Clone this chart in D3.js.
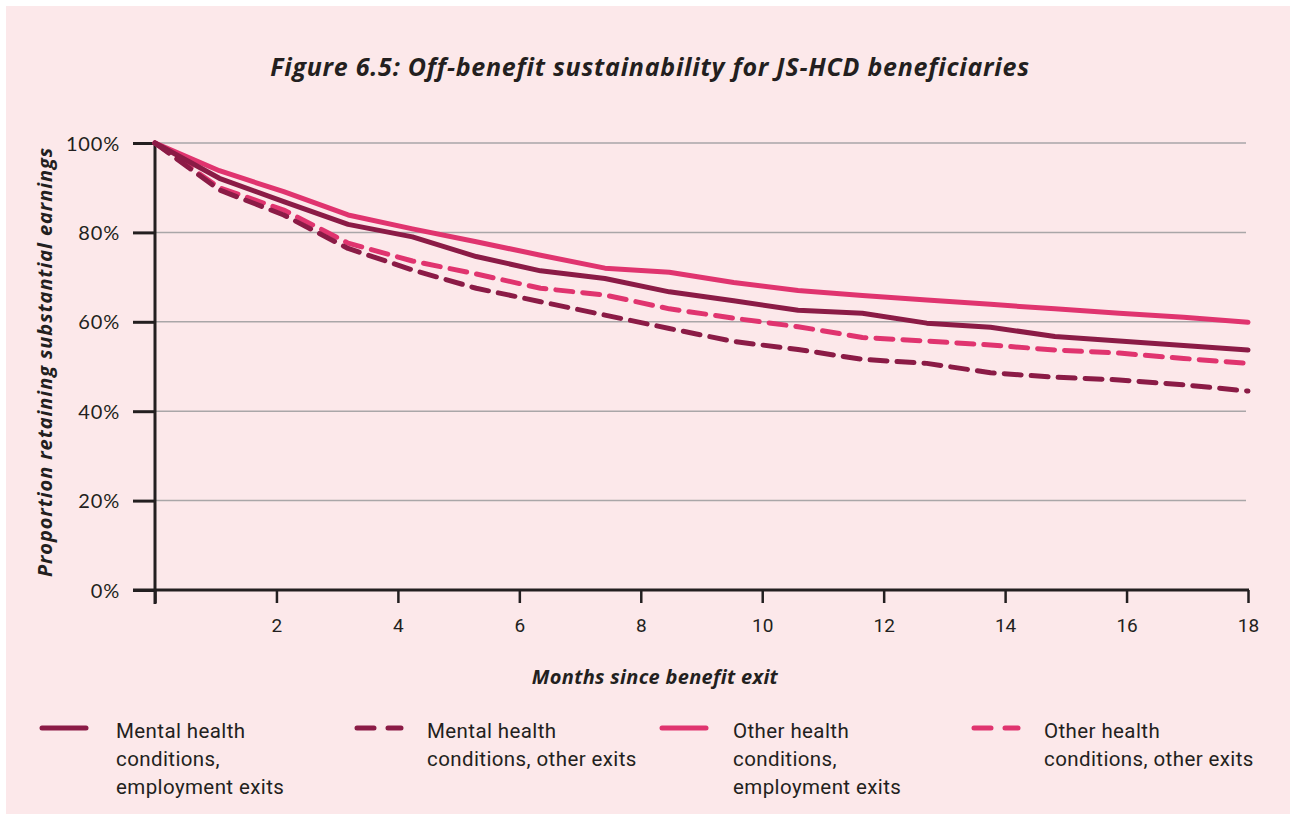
<!DOCTYPE html>
<html>
<head>
<meta charset="utf-8">
<script src="https://cdn.jsdelivr.net/npm/d3@7"></script>
<style>
  html, body { margin: 0; padding: 0; background: #ffffff; }
  svg { display: block; }
</style>
</head>
<body>
<svg id="chart" width="1293" height="819"></svg>
<script>
// ---- data ----
const months = [0, 1.06, 2.12, 3.18, 4.24, 5.29, 6.35, 7.41, 8.47, 9.53, 10.59, 11.65, 12.71, 13.76, 14.82, 15.88, 16.94, 18];
const mentalEmployment = [100, 92.1, 86.9, 81.8, 79.0, 74.6, 71.4, 69.7, 66.7, 64.7, 62.6, 61.9, 59.7, 58.8, 56.7, 55.7, 54.7, 53.7];
const mentalOther      = [100, 89.5, 83.9, 76.4, 71.6, 67.5, 64.5, 61.5, 58.5, 55.6, 53.8, 51.6, 50.7, 48.6, 47.6, 47.0, 45.9, 44.5];
const otherEmployment  = [100, 93.8, 89.1, 83.9, 80.8, 77.9, 74.9, 72.0, 71.1, 68.8, 67.0, 65.9, 64.9, 63.9, 62.9, 61.9, 61.0, 59.9];
const otherOther       = [100, 90.0, 85.0, 77.6, 73.6, 70.7, 67.5, 66.0, 62.9, 60.8, 58.9, 56.5, 55.7, 54.8, 53.7, 53.0, 51.8, 50.7];
const yTicks = [0, 20, 40, 60, 80, 100];
const xTicks = [0, 2, 4, 6, 8, 10, 12, 14, 16, 18];
const seriesNames = [
  ["Mental health", "conditions,", "employment exits"],
  ["Mental health", "conditions, other exits"],
  ["Other health", "conditions,", "employment exits"],
  ["Other health", "conditions, other exits"]
];
const title = "Figure 6.5: Off-benefit sustainability for JS-HCD beneficiaries";
const xTitle = "Months since benefit exit";
const yTitle = "Proportion retaining substantial earnings";

// ---- styles ----
const DARK = "#8b1b46";
const LIGHT = "#e0346f";
const INK = "#231f20";
const BG = "#fce8ea";
const GRID = "#a9a6a8";
const DASH = "17,10";

const svg = d3.select("#chart");
svg.append("rect").attr("x", 6).attr("y", 6).attr("width", 1284).attr("height", 808).attr("fill", BG);

const x = d3.scaleLinear().domain([0, 18]).range([155, 1248]);
const y = d3.scaleLinear().domain([0, 100]).range([590, 143]);

// title
svg.append("text").attr("x", 650).attr("y", 76).attr("text-anchor", "middle")
  .attr("font-family", "'Open Sans', sans-serif").attr("font-weight", 700).attr("font-style", "italic")
  .attr("font-size", 25).attr("letter-spacing", 0.75).attr("fill", INK).text(title);

// gridlines
svg.append("g").selectAll("line").data(yTicks.filter(d => d > 0)).join("line")
  .attr("x1", x(0)).attr("x2", x(18) - 2)
  .attr("y1", d => y(d)).attr("y2", d => y(d))
  .attr("stroke", GRID).attr("stroke-width", 1.5);

// y axis
const yAxis = d3.axisLeft(y).tickValues(yTicks).tickSize(22).tickPadding(13).tickFormat(d => d + "%");
const gy = svg.append("g").attr("transform", `translate(${x(0)},0)`).call(yAxis);
gy.select(".domain").remove();
gy.selectAll(".tick line").attr("stroke", INK).attr("stroke-width", 3);
gy.selectAll(".tick text").attr("font-family", "Lato, sans-serif").attr("font-size", 20).attr("fill", INK)
  .attr("letter-spacing", 0.8).attr("dy", "0.35em");

// x axis
const xAxis = d3.axisBottom(x).tickValues(xTicks).tickSize(13).tickPadding(16).tickFormat(d => d === 0 ? "" : d);
const gx = svg.append("g").attr("transform", `translate(0,${y(0)})`).call(xAxis);
gx.select(".domain").remove();
gx.selectAll(".tick line").attr("stroke", INK).attr("stroke-width", 2.5);
gx.selectAll(".tick text").attr("font-family", "'Liberation Sans Narrow', 'Roboto', sans-serif").attr("font-size", 19).attr("fill", INK);

// axis lines
svg.append("line").attr("x1", x(0) - 22).attr("x2", x(18) + 1).attr("y1", y(0)).attr("y2", y(0))
  .attr("stroke", INK).attr("stroke-width", 3);
svg.append("line").attr("x1", x(0)).attr("x2", x(0)).attr("y1", y(100) - 1).attr("y2", y(0) + 14)
  .attr("stroke", INK).attr("stroke-width", 3);

// axis titles
svg.append("text").attr("x", 655).attr("y", 684).attr("text-anchor", "middle")
  .attr("font-family", "'Open Sans', sans-serif").attr("font-weight", 700).attr("font-style", "italic")
  .attr("font-size", 20).attr("letter-spacing", 0.3).attr("fill", INK).text(xTitle);
svg.append("text").attr("transform", "translate(52,362) rotate(-90)").attr("text-anchor", "middle")
  .attr("font-family", "'Open Sans', sans-serif").attr("font-weight", 700).attr("font-style", "italic")
  .attr("font-size", 20).attr("letter-spacing", 0.9).attr("fill", INK).text(yTitle);

// lines
const line = d3.line().x((d, i) => x(months[i])).y(d => y(d));
const series = [
  { values: otherEmployment, color: LIGHT, dash: null },
  { values: otherOther, color: LIGHT, dash: DASH },
  { values: mentalEmployment, color: DARK, dash: null },
  { values: mentalOther, color: DARK, dash: DASH }
];
svg.append("g").selectAll("path").data(series).join("path")
  .attr("d", d => line(d.values))
  .attr("fill", "none").attr("stroke", d => d.color).attr("stroke-width", 5)
  .attr("stroke-linecap", "round").attr("stroke-linejoin", "round")
  .attr("stroke-dasharray", d => d.dash);

// legend
const legend = [
  { x: 42, tx: 116, color: DARK, dash: null, lines: seriesNames[0] },
  { x: 357, tx: 427, color: DARK, dash: "17,14", lines: seriesNames[1] },
  { x: 662, tx: 733, color: LIGHT, dash: null, lines: seriesNames[2] },
  { x: 974, tx: 1044, color: LIGHT, dash: "17,14", lines: seriesNames[3] }
];
const lg = svg.append("g").selectAll("g").data(legend).join("g");
lg.append("line").attr("x1", d => d.x).attr("x2", d => d.x + 44).attr("y1", 728).attr("y2", 728)
  .attr("stroke", d => d.color).attr("stroke-width", 5).attr("stroke-linecap", "round")
  .attr("stroke-dasharray", d => d.dash);
lg.each(function(d) {
  const t = d3.select(this).append("text").attr("x", d.tx).attr("y", 738)
    .attr("font-family", "Roboto, sans-serif").attr("font-size", 20.5).attr("letter-spacing", 0.4).attr("fill", INK);
  d.lines.forEach((s, i) => t.append("tspan").attr("x", d.tx).attr("dy", i === 0 ? 0 : 28).text(s));
});
</script>
</body>
</html>
